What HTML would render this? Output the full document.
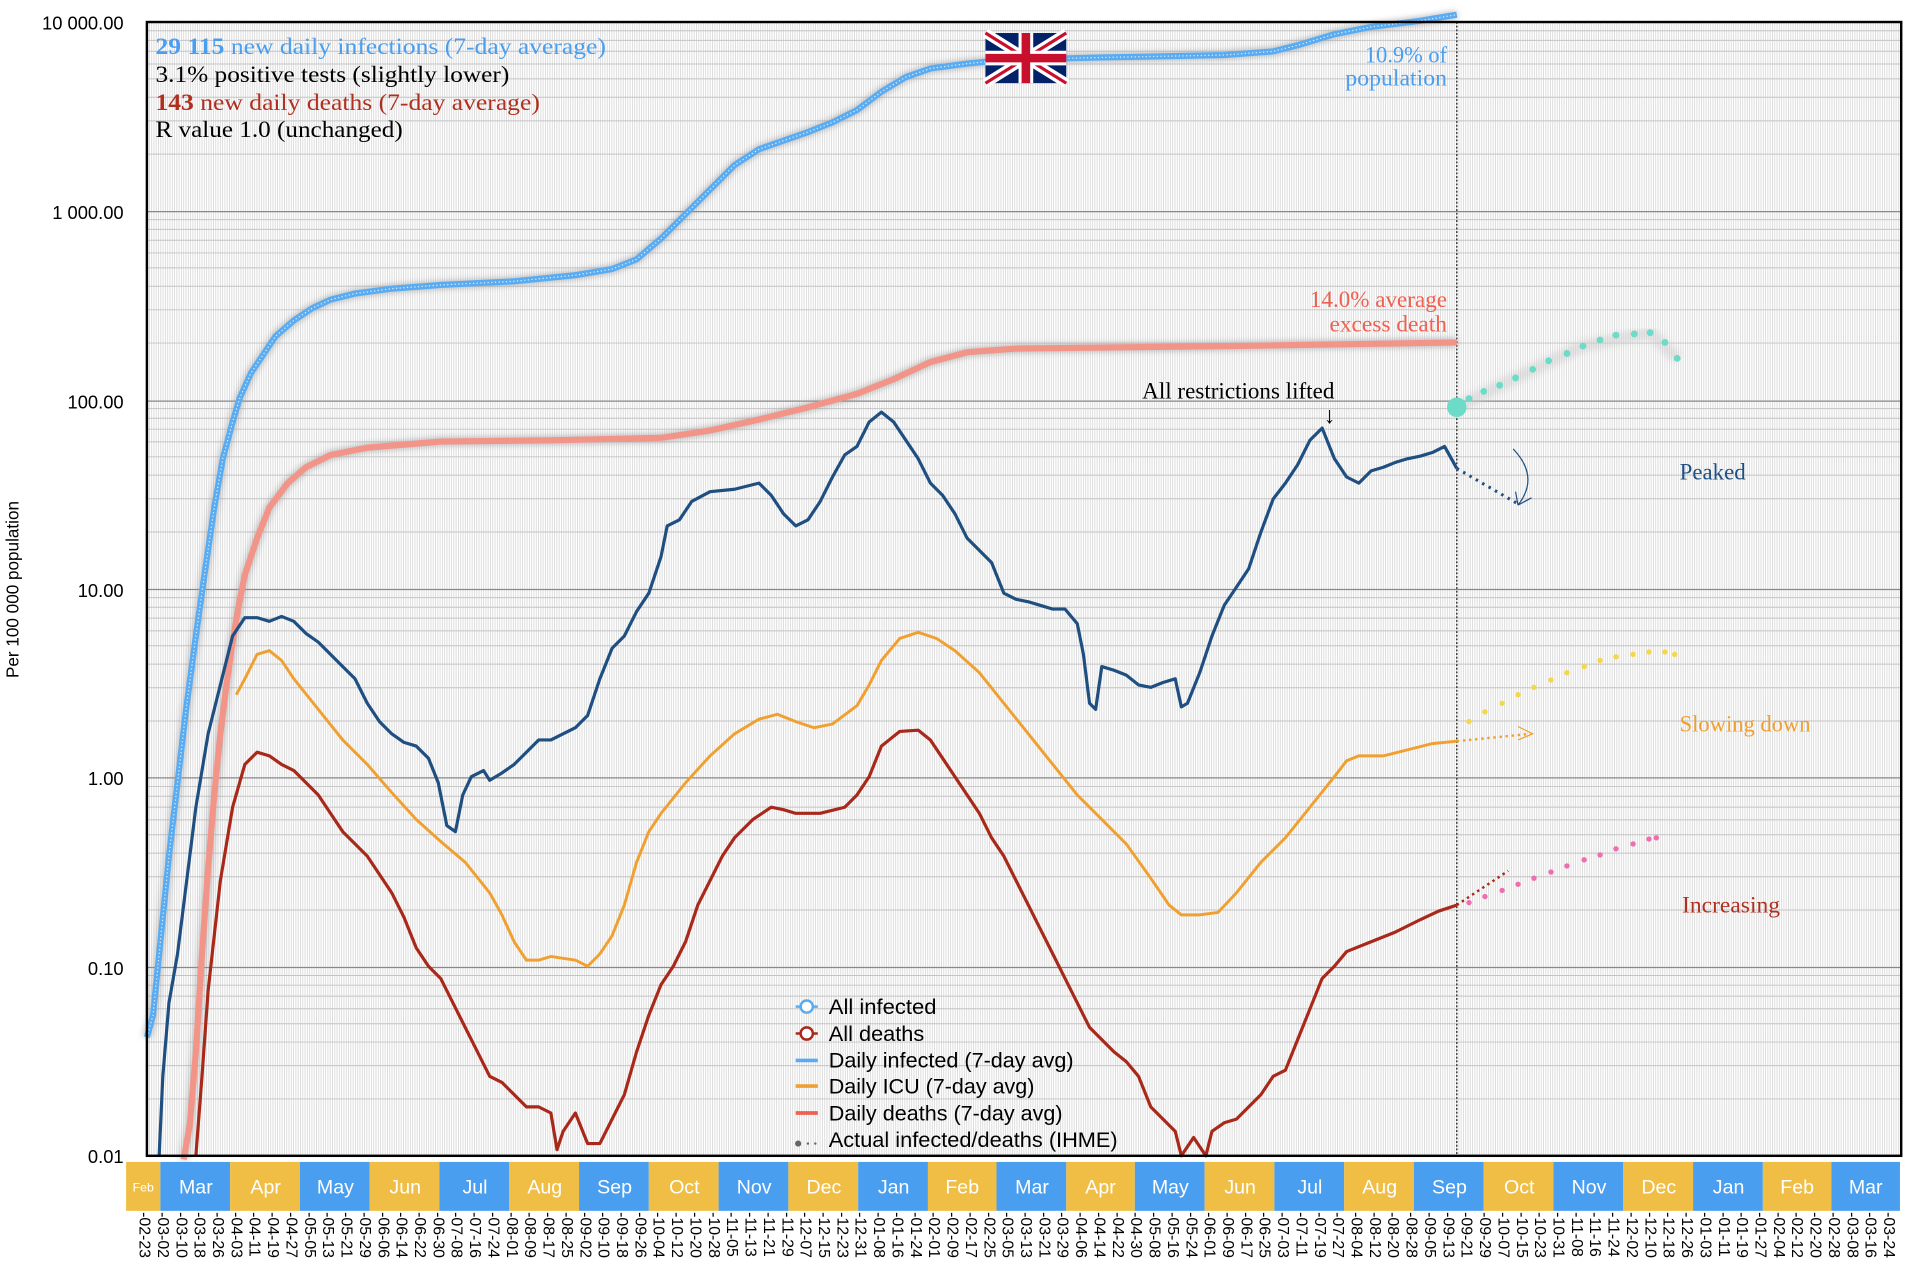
<!DOCTYPE html>
<html><head><meta charset="utf-8"><style>
html,body{margin:0;padding:0;background:#fff;}
svg{display:block;}
.yl{font-family:"Liberation Sans",sans-serif;font-size:15px;fill:#000;text-anchor:end;}
.ser{font-family:"Liberation Serif",serif;font-size:19px;}
.mo{font-family:"Liberation Sans",sans-serif;font-size:16px;fill:#fff;text-anchor:middle;}
.dt{font-family:"Liberation Sans",sans-serif;font-size:13px;fill:#000;}
.lg{font-family:"Liberation Sans",sans-serif;font-size:17px;fill:#000;}
</style></head><body>
<svg width="1922" height="1272" viewBox="0 0 1570 1040" preserveAspectRatio="none" xmlns="http://www.w3.org/2000/svg">
<defs>
<pattern id="vp" width="1.87" height="10" patternUnits="userSpaceOnUse" x="131">
<rect width="1.87" height="10" fill="#fff"/><rect width="0.7" height="10" fill="#d8d8d8"/>
</pattern>
<filter id="sh" x="-5%" y="-5%" width="110%" height="110%"><feGaussianBlur stdDeviation="2.5"/></filter>
</defs>
<rect x="120" y="18" width="1433" height="927" fill="url(#vp)"/>
<g id="grid" stroke="#c4c4c4" stroke-width="0.8">
<g id="dec">
<line x1="120" x2="1553" y1="-46.5" y2="-46.5"/>
<line x1="120" x2="1553" y1="-73.7" y2="-73.7"/>
<line x1="120" x2="1553" y1="-93.0" y2="-93.0"/>
<line x1="120" x2="1553" y1="-108.0" y2="-108.0"/>
<line x1="120" x2="1553" y1="-120.2" y2="-120.2"/>
<line x1="120" x2="1553" y1="-130.6" y2="-130.6"/>
<line x1="120" x2="1553" y1="-139.5" y2="-139.5"/>
<line x1="120" x2="1553" y1="-147.4" y2="-147.4"/>
</g>
</g>
<g stroke="#c4c4c4" stroke-width="0.8">
<use href="#dec" transform="translate(0,945)"/>
<use href="#dec" transform="translate(0,790.5)"/>
<use href="#dec" transform="translate(0,636)"/>
<use href="#dec" transform="translate(0,481.5)"/>
<use href="#dec" transform="translate(0,327)"/>
<use href="#dec" transform="translate(0,172.5)"/>
</g>
<g stroke="#888" stroke-width="1">
<line x1="120" x2="1553" y1="173" y2="173"/>
<line x1="120" x2="1553" y1="328" y2="328"/>
<line x1="120" x2="1553" y1="482" y2="482"/>
<line x1="120" x2="1553" y1="636" y2="636"/>
<line x1="120" x2="1553" y1="791" y2="791"/>
</g>
<line x1="1190" y1="18" x2="1190" y2="945" stroke="#333" stroke-width="1.2" stroke-dasharray="1.5,1.5"/>

<text class="yl" x="101" y="24">10 000.00</text>
<text class="yl" x="101" y="179">1 000.00</text>
<text class="yl" x="101" y="334">100.00</text>
<text class="yl" x="101" y="488">10.00</text>
<text class="yl" x="101" y="642">1.00</text>
<text class="yl" x="101" y="797">0.10</text>
<text class="yl" x="101" y="951">0.01</text>
<text transform="translate(15,482) rotate(-90)" text-anchor="middle" style="font-family:'Liberation Sans',sans-serif;font-size:14px">Per 100 000 population</text>

<polyline fill="none" stroke="#999" stroke-width="7" opacity="0.6" filter="url(#sh)" points="120,848 125,830 132,760 138,700 145,640 152,580 160,520 167,470 175,415 182,375 190,345 196,325 205,305 215,290 225,275 240,262 255,252 270,245 290,240 320,236 360,233 420,230 470,225 500,220 520,212 540,195 560,175 580,155 600,135 620,122 640,115 660,108 680,100 700,90 720,75 740,63 760,56 790,52 820,49 900,47 1000,45 1040,42 1060,37 1090,28 1120,22 1160,17 1190,12"/>
<polyline fill="none" stroke="#5aacf2" stroke-width="5" points="120,848 125,830 132,760 138,700 145,640 152,580 160,520 167,470 175,415 182,375 190,345 196,325 205,305 215,290 225,275 240,262 255,252 270,245 290,240 320,236 360,233 420,230 470,225 500,220 520,212 540,195 560,175 580,155 600,135 620,122 640,115 660,108 680,100 700,90 720,75 740,63 760,56 790,52 820,49 900,47 1000,45 1040,42 1060,37 1090,28 1120,22 1160,17 1190,12"/>
<polyline fill="none" stroke="#fff" stroke-width="1" stroke-dasharray="1,2" opacity="0.8" points="120,848 125,830 132,760 138,700 145,640 152,580 160,520 167,470 175,415 182,375 190,345 196,325 205,305 215,290 225,275 240,262 255,252 270,245 290,240 320,236 360,233 420,230 470,225 500,220 520,212 540,195 560,175 580,155 600,135 620,122 640,115 660,108 680,100 700,90 720,75 740,63 760,56 790,52 820,49 900,47 1000,45 1040,42 1060,37 1090,28 1120,22 1160,17 1190,12"/>

<polyline fill="none" stroke="#999" stroke-width="7" opacity="0.6" filter="url(#sh)" points="150,948 155,920 160,860 165,780 170,710 175,650 180,600 185,560 190,525 195,495 200,470 210,440 220,415 235,395 250,382 270,372 300,366 360,361 450,360 540,358 580,352 620,343 660,333 700,322 730,310 760,296 790,288 830,285 1000,283 1190,280"/>
<polyline fill="none" stroke="#f39488" stroke-width="5" points="150,948 155,920 160,860 165,780 170,710 175,650 180,600 185,560 190,525 195,495 200,470 210,440 220,415 235,395 250,382 270,372 300,366 360,361 450,360 540,358 580,352 620,343 660,333 700,322 730,310 760,296 790,288 830,285 1000,283 1190,280"/>

<polyline fill="none" stroke="#1f4e80" stroke-width="2.6" stroke-linejoin="round" points="130,945 133,880 138,820 145,780 150,740 155,700 160,660 170,600 180,560 190,520 200,505 210,505 220,508 230,504 240,508 250,518 260,525 270,535 280,545 290,555 300,575 310,590 320,600 330,607 340,610 350,620 358,640 365,675 372,680 378,650 385,635 395,630 400,638 410,632 420,625 430,615 440,605 450,605 460,600 470,595 480,585 490,555 500,530 510,520 520,500 530,485 540,455 545,430 555,425 565,410 580,402 600,400 620,395 630,405 640,420 650,430 660,425 670,410 680,390 690,372 700,365 710,345 720,337 730,345 740,360 750,375 760,395 770,405 780,420 790,440 800,450 810,460 820,485 830,490 840,492 850,495 860,498 870,498 880,510 885,535 890,575 895,580 900,545 910,548 920,552 930,560 940,562 950,558 960,555 965,578 970,575 980,550 990,520 1000,495 1010,480 1020,465 1030,435 1040,408 1050,395 1060,380 1070,360 1080,350 1090,375 1100,390 1110,395 1120,385 1130,382 1140,378 1150,375 1160,373 1170,370 1180,365 1190,383"/>
<line x1="1190" y1="383" x2="1240" y2="412" stroke="#1f4e80" stroke-width="2.5" stroke-dasharray="2,4"/>
<path d="M1236,367 Q1258,390 1240,413 M1240,413 L1238,402 M1240,413 L1251,407" fill="none" stroke="#1f4e80" stroke-width="1"/>

<polyline fill="none" stroke="#f0a030" stroke-width="2.4" points="193,568 200,555 210,535 220,532 230,540 240,555 260,580 280,605 300,625 320,648 340,670 360,688 380,705 400,730 410,748 420,770 430,785 440,785 450,782 470,785 480,790 490,780 500,765 510,740 520,705 530,680 540,665 560,640 580,618 600,600 620,588 635,584 650,590 665,595 680,592 700,577 710,560 720,540 735,522 750,517 765,522 780,532 800,550 820,575 840,600 860,625 880,650 900,670 920,690 940,718 955,740 965,748 980,748 995,746 1010,730 1030,705 1050,685 1070,660 1090,635 1100,622 1110,618 1130,618 1150,613 1170,608 1190,606"/>
<line x1="1190" y1="606" x2="1250" y2="600" stroke="#f0a030" stroke-width="2" stroke-dasharray="2,3"/>
<path d="M1240,594 L1252,600 L1240,605" fill="none" stroke="#f0a030" stroke-width="1"/>

<polyline fill="none" stroke="#a8281a" stroke-width="2.6" stroke-linejoin="round" points="160,945 165,880 170,810 180,720 190,660 200,625 210,615 220,618 230,625 240,630 250,640 260,650 270,665 280,680 290,690 300,700 310,715 320,730 330,750 340,775 350,790 360,800 370,820 380,840 390,860 400,880 410,885 420,895 430,905 440,905 450,910 455,940 460,925 470,910 480,935 490,935 500,915 510,895 520,860 530,830 540,805 550,790 560,770 570,740 580,720 590,700 600,685 615,670 630,660 640,662 650,665 670,665 690,660 700,650 710,635 720,610 735,598 750,597 760,605 770,620 780,635 790,650 800,665 810,685 820,700 830,720 840,740 850,760 860,780 870,800 880,820 890,840 900,850 910,860 920,868 930,880 940,905 950,915 960,925 965,945 975,930 985,945 990,925 1000,918 1010,915 1020,905 1030,895 1040,880 1050,875 1060,850 1070,825 1080,800 1090,790 1100,778 1120,770 1140,762 1160,752 1175,745 1190,740"/>
<line x1="1190" y1="740" x2="1232" y2="712" stroke="#a8281a" stroke-width="2" stroke-dasharray="2,3"/>

<polyline fill="none" stroke="#ccc" stroke-width="10" opacity="0.5" filter="url(#sh)" points="1190,333 1238,309 1293,283 1348,272 1370,293"/>
<circle cx="1190" cy="333" r="8" fill="#6cdcc8"/>
<g fill="#6cdcc8">
<circle cx="1200" cy="326" r="2.8"/><circle cx="1212" cy="320" r="2.8"/><circle cx="1225" cy="315" r="2.8"/><circle cx="1238" cy="309" r="2.8"/><circle cx="1252" cy="302" r="2.8"/><circle cx="1265" cy="295" r="2.8"/><circle cx="1280" cy="289" r="2.8"/><circle cx="1293" cy="283" r="2.8"/><circle cx="1307" cy="278" r="2.8"/><circle cx="1320" cy="274" r="2.8"/><circle cx="1335" cy="273" r="2.8"/><circle cx="1348" cy="272" r="2.8"/><circle cx="1360" cy="280" r="2.8"/><circle cx="1370" cy="293" r="2.8"/>
</g>
<g fill="#f5d845">
<circle cx="1200" cy="590" r="2.2"/><circle cx="1213" cy="582" r="2.2"/><circle cx="1227" cy="575" r="2.2"/><circle cx="1240" cy="568" r="2.2"/><circle cx="1253" cy="562" r="2.2"/><circle cx="1267" cy="556" r="2.2"/><circle cx="1280" cy="550" r="2.2"/><circle cx="1294" cy="545" r="2.2"/><circle cx="1307" cy="540" r="2.2"/><circle cx="1320" cy="537" r="2.2"/><circle cx="1334" cy="535" r="2.2"/><circle cx="1347" cy="533" r="2.2"/><circle cx="1360" cy="533" r="2.2"/><circle cx="1368" cy="535" r="2.2"/>
</g>
<g fill="#ee6fb0">
<circle cx="1200" cy="738" r="2.2"/><circle cx="1213" cy="733" r="2.2"/><circle cx="1227" cy="728" r="2.2"/><circle cx="1240" cy="723" r="2.2"/><circle cx="1253" cy="718" r="2.2"/><circle cx="1267" cy="713" r="2.2"/><circle cx="1280" cy="708" r="2.2"/><circle cx="1294" cy="703" r="2.2"/><circle cx="1307" cy="699" r="2.2"/><circle cx="1320" cy="694" r="2.2"/><circle cx="1334" cy="690" r="2.2"/><circle cx="1347" cy="686" r="2.2"/><circle cx="1353" cy="685" r="2.2"/>
</g>

<g transform="translate(805,27)">
<rect width="66" height="41" fill="#012169"/>
<path d="M0,0 L66,41 M66,0 L0,41" stroke="#fff" stroke-width="8"/>
<path d="M0,0 L66,41 M66,0 L0,41" stroke="#c8102e" stroke-width="2.6"/>
<path d="M33,0 V41 M0,20.5 H66" stroke="#fff" stroke-width="12"/>
<path d="M33,0 V41 M0,20.5 H66" stroke="#c8102e" stroke-width="7"/>
</g>

<text class="ser" x="127" y="44" fill="#4a9ef0" textLength="368" lengthAdjust="spacingAndGlyphs"><tspan font-weight="bold">29 115</tspan> new daily infections (7-day average)</text>
<text class="ser" x="127" y="67" fill="#000" textLength="289" lengthAdjust="spacingAndGlyphs">3.1% positive tests (slightly lower)</text>
<text class="ser" x="127" y="90" fill="#b03020" textLength="314" lengthAdjust="spacingAndGlyphs"><tspan font-weight="bold">143</tspan> new daily deaths (7-day average)</text>
<text class="ser" x="127" y="112" fill="#000" textLength="202" lengthAdjust="spacingAndGlyphs">R value 1.0 (unchanged)</text>
<text class="ser" x="1115" y="51" fill="#4a9ef0" font-size="17" textLength="67" lengthAdjust="spacingAndGlyphs">10.9% of</text>
<text class="ser" x="1099" y="70" fill="#4a9ef0" font-size="17" textLength="83" lengthAdjust="spacingAndGlyphs">population</text>
<text class="ser" x="1070" y="251" fill="#f06050" font-size="17" textLength="112" lengthAdjust="spacingAndGlyphs">14.0% average</text>
<text class="ser" x="1086" y="271" fill="#f06050" font-size="17" textLength="96" lengthAdjust="spacingAndGlyphs">excess death</text>
<text class="ser" x="933" y="326" fill="#000" font-size="17" textLength="157" lengthAdjust="spacingAndGlyphs">All restrictions lifted</text>
<text class="ser" x="1086" y="346" fill="#000" text-anchor="middle" font-size="16">↓</text>
<text class="ser" x="1372" y="392" fill="#1f4e80" font-size="17" textLength="54" lengthAdjust="spacingAndGlyphs">Peaked</text>
<text class="ser" x="1372" y="598" fill="#f0a030" font-size="17" textLength="107" lengthAdjust="spacingAndGlyphs">Slowing down</text>
<text class="ser" x="1374" y="746" fill="#b03020" font-size="17" textLength="80" lengthAdjust="spacingAndGlyphs">Increasing</text>

<g>
<line x1="650" y1="823" x2="668" y2="823" stroke="#5aacf2" stroke-width="2"/><circle cx="659" cy="823" r="5" fill="#fff" stroke="#5aacf2" stroke-width="2"/>
<text class="lg" x="677" y="829" textLength="88" lengthAdjust="spacingAndGlyphs">All infected</text>
<line x1="650" y1="845" x2="668" y2="845" stroke="#a8281a" stroke-width="2"/><circle cx="659" cy="845" r="5" fill="#fff" stroke="#a8281a" stroke-width="2"/>
<text class="lg" x="677" y="851" textLength="78" lengthAdjust="spacingAndGlyphs">All deaths</text>
<line x1="650" y1="867" x2="668" y2="867" stroke="#5aacf2" stroke-width="3"/>
<text class="lg" x="677" y="873" textLength="200" lengthAdjust="spacingAndGlyphs">Daily infected (7-day avg)</text>
<line x1="650" y1="888" x2="668" y2="888" stroke="#f0a030" stroke-width="3"/>
<text class="lg" x="677" y="894" textLength="168" lengthAdjust="spacingAndGlyphs">Daily ICU (7-day avg)</text>
<line x1="650" y1="910" x2="668" y2="910" stroke="#f06050" stroke-width="3"/>
<text class="lg" x="677" y="916" textLength="191" lengthAdjust="spacingAndGlyphs">Daily deaths (7-day avg)</text>
<circle cx="652" cy="935" r="2.5" fill="#666"/><circle cx="660" cy="935" r="1" fill="#666"/><circle cx="666" cy="935" r="1" fill="#666"/>
<text class="lg" x="677" y="938" textLength="236" lengthAdjust="spacingAndGlyphs">Actual infected/deaths (IHME)</text>
</g>

<rect x="120" y="18" width="1433" height="927" fill="none" stroke="#000" stroke-width="2"/>

<g>
<rect x="103" y="950" width="28" height="40" fill="#f0be45"/>
<rect x="131" y="950" width="57" height="40" fill="#4a9ef0"/>
<rect x="188" y="950" width="57" height="40" fill="#f0be45"/>
<rect x="245" y="950" width="57" height="40" fill="#4a9ef0"/>
<rect x="302" y="950" width="57" height="40" fill="#f0be45"/>
<rect x="359" y="950" width="57" height="40" fill="#4a9ef0"/>
<rect x="416" y="950" width="57" height="40" fill="#f0be45"/>
<rect x="473" y="950" width="57" height="40" fill="#4a9ef0"/>
<rect x="530" y="950" width="57" height="40" fill="#f0be45"/>
<rect x="587" y="950" width="57" height="40" fill="#4a9ef0"/>
<rect x="644" y="950" width="57" height="40" fill="#f0be45"/>
<rect x="701" y="950" width="57" height="40" fill="#4a9ef0"/>
<rect x="758" y="950" width="56" height="40" fill="#f0be45"/>
<rect x="814" y="950" width="57" height="40" fill="#4a9ef0"/>
<rect x="871" y="950" width="56" height="40" fill="#f0be45"/>
<rect x="927" y="950" width="57" height="40" fill="#4a9ef0"/>
<rect x="984" y="950" width="57" height="40" fill="#f0be45"/>
<rect x="1041" y="950" width="57" height="40" fill="#4a9ef0"/>
<rect x="1098" y="950" width="57" height="40" fill="#f0be45"/>
<rect x="1155" y="950" width="57" height="40" fill="#4a9ef0"/>
<rect x="1212" y="950" width="57" height="40" fill="#f0be45"/>
<rect x="1269" y="950" width="57" height="40" fill="#4a9ef0"/>
<rect x="1326" y="950" width="57" height="40" fill="#f0be45"/>
<rect x="1383" y="950" width="57" height="40" fill="#4a9ef0"/>
<rect x="1440" y="950" width="56" height="40" fill="#f0be45"/>
<rect x="1496" y="950" width="56" height="40" fill="#4a9ef0"/>
</g>
<g>
<text class="mo" x="117" y="974" style="font-size:10px">Feb</text>
<text class="mo" x="160" y="976">Mar</text><text class="mo" x="217" y="976">Apr</text><text class="mo" x="274" y="976">May</text><text class="mo" x="331" y="976">Jun</text><text class="mo" x="388" y="976">Jul</text><text class="mo" x="445" y="976">Aug</text><text class="mo" x="502" y="976">Sep</text><text class="mo" x="559" y="976">Oct</text><text class="mo" x="616" y="976">Nov</text><text class="mo" x="673" y="976">Dec</text><text class="mo" x="730" y="976">Jan</text><text class="mo" x="786" y="976">Feb</text><text class="mo" x="843" y="976">Mar</text><text class="mo" x="899" y="976">Apr</text><text class="mo" x="956" y="976">May</text><text class="mo" x="1013" y="976">Jun</text><text class="mo" x="1070" y="976">Jul</text><text class="mo" x="1127" y="976">Aug</text><text class="mo" x="1184" y="976">Sep</text><text class="mo" x="1241" y="976">Oct</text><text class="mo" x="1298" y="976">Nov</text><text class="mo" x="1355" y="976">Dec</text><text class="mo" x="1412" y="976">Jan</text><text class="mo" x="1468" y="976">Feb</text><text class="mo" x="1524" y="976">Mar</text>
</g>

<g class="dt">
<text transform="translate(114,991) rotate(90)">-02-23</text>
<text transform="translate(129,991) rotate(90)">-03-02</text>
<text transform="translate(144,991) rotate(90)">-03-10</text>
<text transform="translate(159,991) rotate(90)">-03-18</text>
<text transform="translate(174,991) rotate(90)">-03-26</text>
<text transform="translate(189,991) rotate(90)">-04-03</text>
<text transform="translate(204,991) rotate(90)">-04-11</text>
<text transform="translate(219,991) rotate(90)">-04-19</text>
<text transform="translate(234,991) rotate(90)">-04-27</text>
<text transform="translate(249,991) rotate(90)">-05-05</text>
<text transform="translate(264,991) rotate(90)">-05-13</text>
<text transform="translate(279,991) rotate(90)">-05-21</text>
<text transform="translate(294,991) rotate(90)">-05-29</text>
<text transform="translate(309,991) rotate(90)">-06-06</text>
<text transform="translate(324,991) rotate(90)">-06-14</text>
<text transform="translate(339,991) rotate(90)">-06-22</text>
<text transform="translate(354,991) rotate(90)">-06-30</text>
<text transform="translate(369,991) rotate(90)">-07-08</text>
<text transform="translate(384,991) rotate(90)">-07-16</text>
<text transform="translate(399,991) rotate(90)">-07-24</text>
<text transform="translate(414,991) rotate(90)">-08-01</text>
<text transform="translate(429,991) rotate(90)">-08-09</text>
<text transform="translate(444,991) rotate(90)">-08-17</text>
<text transform="translate(459,991) rotate(90)">-08-25</text>
<text transform="translate(474,991) rotate(90)">-09-02</text>
<text transform="translate(489,991) rotate(90)">-09-10</text>
<text transform="translate(504,991) rotate(90)">-09-18</text>
<text transform="translate(519,991) rotate(90)">-09-26</text>
<text transform="translate(534,991) rotate(90)">-10-04</text>
<text transform="translate(549,991) rotate(90)">-10-12</text>
<text transform="translate(564,991) rotate(90)">-10-20</text>
<text transform="translate(579,991) rotate(90)">-10-28</text>
<text transform="translate(594,991) rotate(90)">-11-05</text>
<text transform="translate(609,991) rotate(90)">-11-13</text>
<text transform="translate(624,991) rotate(90)">-11-21</text>
<text transform="translate(639,991) rotate(90)">-11-29</text>
<text transform="translate(654,991) rotate(90)">-12-07</text>
<text transform="translate(669,991) rotate(90)">-12-15</text>
<text transform="translate(684,991) rotate(90)">-12-23</text>
<text transform="translate(699,991) rotate(90)">-12-31</text>
<text transform="translate(714,991) rotate(90)">-01-08</text>
<text transform="translate(729,991) rotate(90)">-01-16</text>
<text transform="translate(744,991) rotate(90)">-01-24</text>
<text transform="translate(759,991) rotate(90)">-02-01</text>
<text transform="translate(774,991) rotate(90)">-02-09</text>
<text transform="translate(789,991) rotate(90)">-02-17</text>
<text transform="translate(804,991) rotate(90)">-02-25</text>
<text transform="translate(819,991) rotate(90)">-03-05</text>
<text transform="translate(834,991) rotate(90)">-03-13</text>
<text transform="translate(849,991) rotate(90)">-03-21</text>
<text transform="translate(864,991) rotate(90)">-03-29</text>
<text transform="translate(879,991) rotate(90)">-04-06</text>
<text transform="translate(894,991) rotate(90)">-04-14</text>
<text transform="translate(909,991) rotate(90)">-04-22</text>
<text transform="translate(924,991) rotate(90)">-04-30</text>
<text transform="translate(939,991) rotate(90)">-05-08</text>
<text transform="translate(954,991) rotate(90)">-05-16</text>
<text transform="translate(969,991) rotate(90)">-05-24</text>
<text transform="translate(984,991) rotate(90)">-06-01</text>
<text transform="translate(999,991) rotate(90)">-06-09</text>
<text transform="translate(1014,991) rotate(90)">-06-17</text>
<text transform="translate(1029,991) rotate(90)">-06-25</text>
<text transform="translate(1044,991) rotate(90)">-07-03</text>
<text transform="translate(1059,991) rotate(90)">-07-11</text>
<text transform="translate(1074,991) rotate(90)">-07-19</text>
<text transform="translate(1089,991) rotate(90)">-07-27</text>
<text transform="translate(1104,991) rotate(90)">-08-04</text>
<text transform="translate(1119,991) rotate(90)">-08-12</text>
<text transform="translate(1134,991) rotate(90)">-08-20</text>
<text transform="translate(1149,991) rotate(90)">-08-28</text>
<text transform="translate(1164,991) rotate(90)">-09-05</text>
<text transform="translate(1179,991) rotate(90)">-09-13</text>
<text transform="translate(1194,991) rotate(90)">-09-21</text>
<text transform="translate(1209,991) rotate(90)">-09-29</text>
<text transform="translate(1224,991) rotate(90)">-10-07</text>
<text transform="translate(1239,991) rotate(90)">-10-15</text>
<text transform="translate(1254,991) rotate(90)">-10-23</text>
<text transform="translate(1269,991) rotate(90)">-10-31</text>
<text transform="translate(1284,991) rotate(90)">-11-08</text>
<text transform="translate(1299,991) rotate(90)">-11-16</text>
<text transform="translate(1314,991) rotate(90)">-11-24</text>
<text transform="translate(1329,991) rotate(90)">-12-02</text>
<text transform="translate(1344,991) rotate(90)">-12-10</text>
<text transform="translate(1359,991) rotate(90)">-12-18</text>
<text transform="translate(1374,991) rotate(90)">-12-26</text>
<text transform="translate(1389,991) rotate(90)">-01-03</text>
<text transform="translate(1404,991) rotate(90)">-01-11</text>
<text transform="translate(1419,991) rotate(90)">-01-19</text>
<text transform="translate(1434,991) rotate(90)">-01-27</text>
<text transform="translate(1449,991) rotate(90)">-02-04</text>
<text transform="translate(1464,991) rotate(90)">-02-12</text>
<text transform="translate(1479,991) rotate(90)">-02-20</text>
<text transform="translate(1494,991) rotate(90)">-02-28</text>
<text transform="translate(1509,991) rotate(90)">-03-08</text>
<text transform="translate(1524,991) rotate(90)">-03-16</text>
<text transform="translate(1539,991) rotate(90)">-03-24</text>
</g>
</svg>
</body></html>
